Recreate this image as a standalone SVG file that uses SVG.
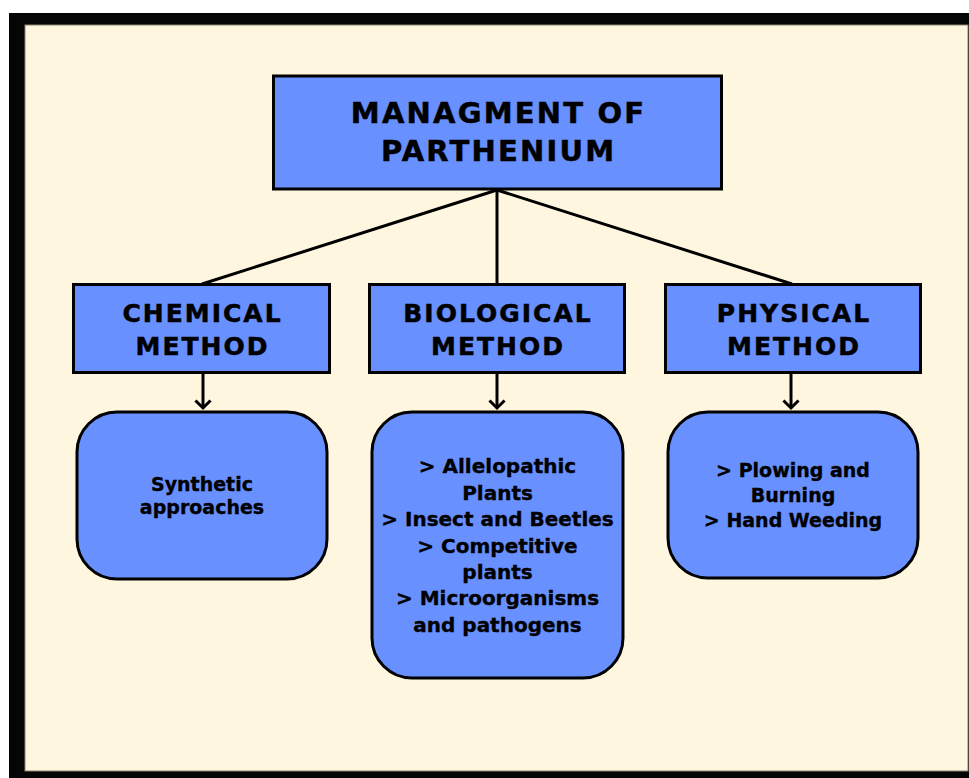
<svg xmlns="http://www.w3.org/2000/svg" width="969" height="778" viewBox="0 0 969 778">
  <defs>
    <style>
      .box { fill: #6890FF; stroke: #000; stroke-width: 3; }
      .head { font-family: "DejaVu Sans", "Liberation Sans", sans-serif; font-weight: bold; fill: #000; stroke: #000; stroke-width: 0.5; text-anchor: middle; }
      .title { font-size: 29px; letter-spacing: 2.2px; }
      .mid { font-size: 25px; letter-spacing: 2px; }
      .body { font-family: "DejaVu Sans", "Liberation Sans", sans-serif; font-weight: bold; fill: #000; stroke: #000; stroke-width: 0.35; text-anchor: middle; font-size: 19px; }
      .bio { font-size: 20px; }
      .conn { stroke: #000; stroke-width: 3; fill: none; }
    </style>
    <marker id="arrow" markerUnits="userSpaceOnUse" markerWidth="20" markerHeight="20" refX="12" refY="10" orient="auto" viewBox="0 0 20 20">
      <path d="M5.5,3.5 L12,10 L5.5,16.5" fill="none" stroke="#000" stroke-width="3" stroke-linecap="square" stroke-linejoin="miter"/>
    </marker>
  </defs>

  <rect x="0" y="0" width="969" height="778" fill="#FFFFFF"/>
  <rect x="9" y="13" width="960" height="765" fill="#050505"/>
  <rect x="25" y="25" width="943" height="746" fill="#FEF6DF" stroke="#8a8574" stroke-width="1"/>

  <g id="connectors">
    <line class="conn" x1="497" y1="190" x2="202" y2="284"/>
    <line class="conn" x1="497" y1="190" x2="497" y2="284"/>
    <line class="conn" x1="497" y1="190" x2="792" y2="284"/>
    <line class="conn" x1="203" y1="373" x2="203" y2="408" marker-end="url(#arrow)"/>
    <line class="conn" x1="497" y1="373" x2="497" y2="408" marker-end="url(#arrow)"/>
    <line class="conn" x1="791" y1="373" x2="791" y2="408" marker-end="url(#arrow)"/>
  </g>

  <g id="root">
    <rect class="box" x="273.5" y="76" width="448" height="113"/>
    <text class="head title" x="498.6" y="123">MANAGMENT OF</text>
    <text class="head title" x="498.6" y="161">PARTHENIUM</text>
  </g>

  <g id="chemical">
    <rect class="box" x="73.5" y="284.5" width="256" height="88"/>
    <text class="head mid" x="202.5" y="322">CHEMICAL</text>
    <text class="head mid" x="202.5" y="355">METHOD</text>
  </g>

  <g id="biological">
    <rect class="box" x="369.5" y="284.5" width="255" height="88"/>
    <text class="head mid" x="498" y="322">BIOLOGICAL</text>
    <text class="head mid" x="498" y="355">METHOD</text>
  </g>

  <g id="physical">
    <rect class="box" x="665.5" y="284.5" width="255" height="88"/>
    <text class="head mid" x="794" y="322">PHYSICAL</text>
    <text class="head mid" x="794" y="355">METHOD</text>
  </g>

  <g id="chemical-detail">
    <rect class="box" x="77" y="412" width="250" height="167" rx="40" ry="40"/>
    <text class="body" x="202" y="491">Synthetic</text>
    <text class="body" x="202" y="514">approaches</text>
  </g>

  <g id="biological-detail">
    <rect class="box" x="372" y="412" width="251" height="266" rx="40" ry="40"/>
    <text class="body bio" x="497.5" y="473">&gt; Allelopathic</text>
    <text class="body bio" x="497.5" y="499.5">Plants</text>
    <text class="body bio" x="497.5" y="526">&gt; Insect and Beetles</text>
    <text class="body bio" x="497.5" y="552.5">&gt; Competitive</text>
    <text class="body bio" x="497.5" y="579">plants</text>
    <text class="body bio" x="497.5" y="605">&gt; Microorganisms</text>
    <text class="body bio" x="497.5" y="631.5">and pathogens</text>
  </g>

  <g id="physical-detail">
    <rect class="box" x="668" y="412" width="250" height="166" rx="40" ry="40"/>
    <text class="body" x="793" y="477">&gt; Plowing and</text>
    <text class="body" x="793" y="502">Burning</text>
    <text class="body" x="793" y="527">&gt; Hand Weeding</text>
  </g>
</svg>
